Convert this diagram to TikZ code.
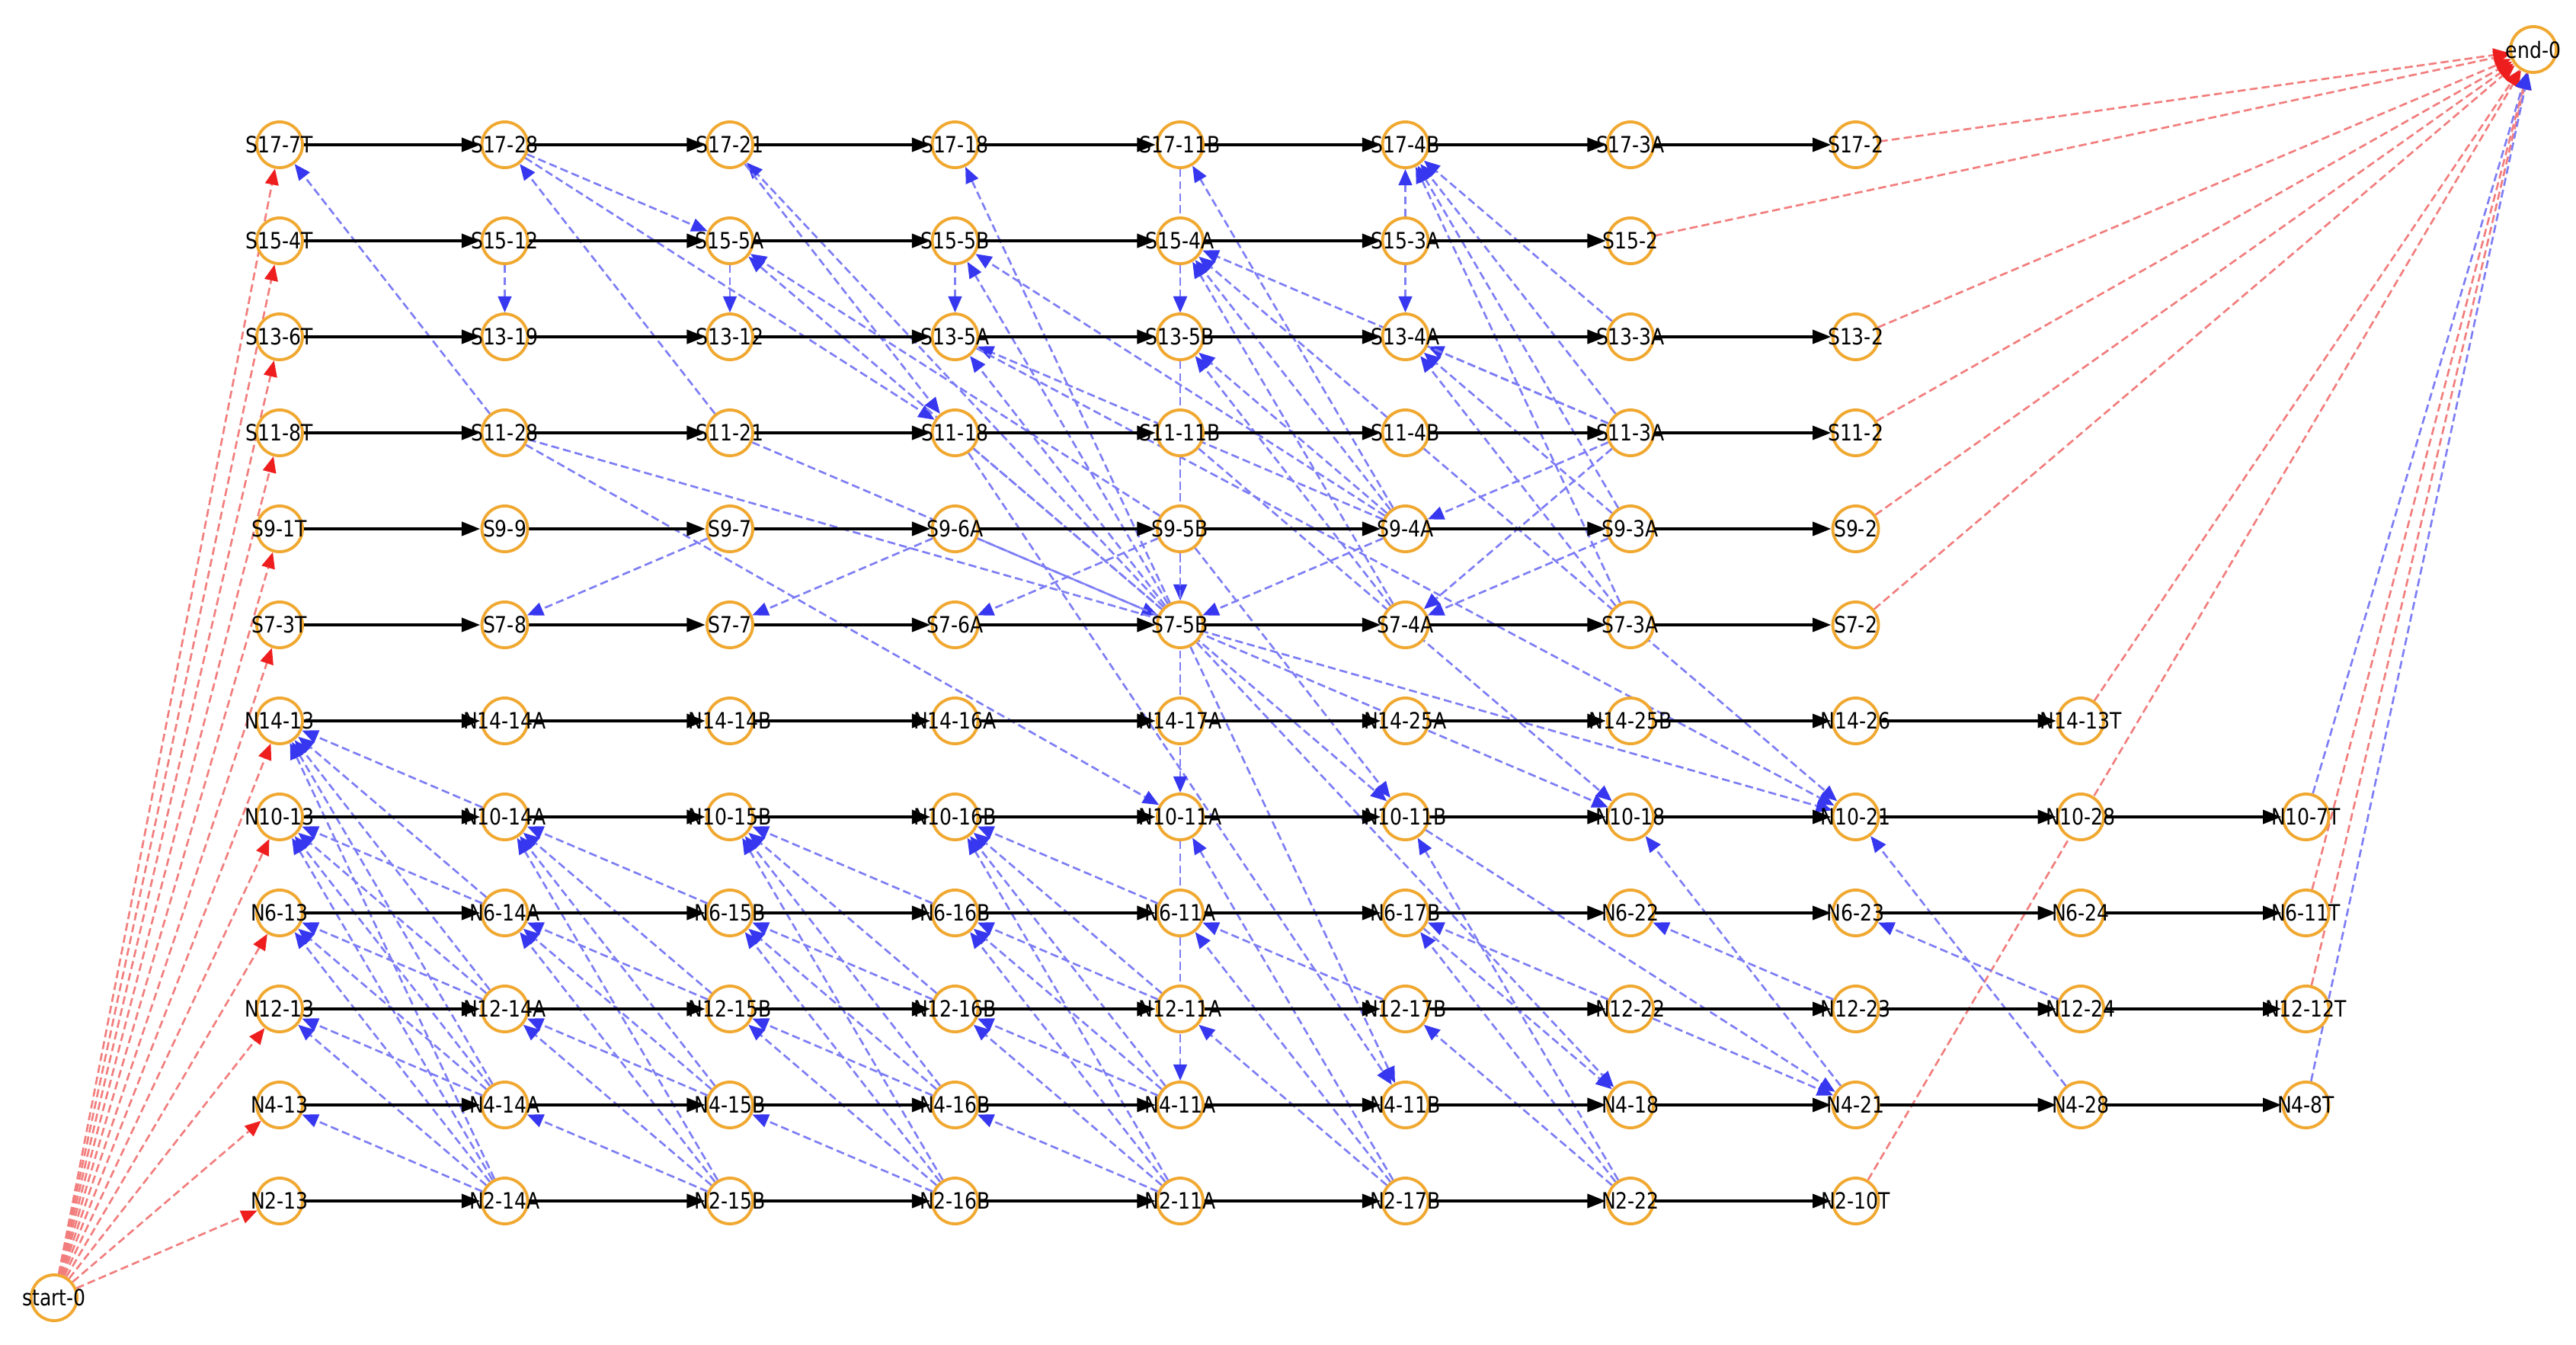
\documentclass[tikz,border=0pt]{standalone}
\usepackage{fontspec}
\setmainfont{DejaVu Sans}[FakeStretch=0.85]
\usetikzlibrary{arrows.meta,backgrounds}

\definecolor{stopring}{RGB}{240,168,48}
\definecolor{linkblue}{RGB}{125,125,245}
\definecolor{tipblue}{RGB}{55,55,240}
\definecolor{linkred}{RGB}{242,125,125}
\definecolor{tipred}{RGB}{238,30,30}

% one line per route, stops from left to right
\def\routes{{S17-7T,S17-28,S17-21,S17-18,S17-11B,S17-4B,S17-3A,S17-2},
 {S15-4T,S15-12,S15-5A,S15-5B,S15-4A,S15-3A,S15-2},
 {S13-6T,S13-19,S13-12,S13-5A,S13-5B,S13-4A,S13-3A,S13-2},
 {S11-8T,S11-28,S11-21,S11-18,S11-11B,S11-4B,S11-3A,S11-2},
 {S9-1T,S9-9,S9-7,S9-6A,S9-5B,S9-4A,S9-3A,S9-2},
 {S7-3T,S7-8,S7-7,S7-6A,S7-5B,S7-4A,S7-3A,S7-2},
 {N14-13,N14-14A,N14-14B,N14-16A,N14-17A,N14-25A,N14-25B,N14-26,N14-13T},
 {N10-13,N10-14A,N10-15B,N10-16B,N10-11A,N10-11B,N10-18,N10-21,N10-28,N10-7T},
 {N6-13,N6-14A,N6-15B,N6-16B,N6-11A,N6-17B,N6-22,N6-23,N6-24,N6-11T},
 {N12-13,N12-14A,N12-15B,N12-16B,N12-11A,N12-17B,N12-22,N12-23,N12-24,N12-12T},
 {N4-13,N4-14A,N4-15B,N4-16B,N4-11A,N4-11B,N4-18,N4-21,N4-28,N4-8T},
 {N2-13,N2-14A,N2-15B,N2-16B,N2-11A,N2-17B,N2-22,N2-10T}}

\begin{document}
\begin{tikzpicture}[
	stop/.style={circle, draw=stopring, line width=1.1pt, fill=white, minimum size=0.6cm, inner sep=0pt},
	stoplabel/.style={inner sep=0pt, font=\fontsize{8.4}{9}\selectfont},
	run/.style={-{Triangle[length=7pt,width=5pt]}, line width=1.4pt, black},
	transfer/.style={-{Triangle[length=6pt,width=5pt,color=tipblue]}, linkblue, line width=0.75pt, dash pattern=on 3pt off 1.5pt},
	feed/.style={-{Triangle[length=6pt,width=5pt,color=tipred]}, linkred, line width=0.75pt, dash pattern=on 3pt off 1.5pt}
]
	%\draw[help lines] (0,0) grid (34,-18);
	\useasboundingbox (0,0) rectangle (33.81,-17.64);
	% stops
	\foreach \route [count=\r] in \routes {
		\foreach \st [count=\c] in \route
			\node[stop, label={[stoplabel]center:\st}] (\st) at ({3.67+2.955*(\c-1)}, {-1.90-1.26*(\r-1)}) {};
	}
	\node[stop, label={[stoplabel]center:start-0}] (start-0) at (0.71,-17.03) {};
	\node[stop, label={[stoplabel]center:end-0}] (end-0) at (33.25,-0.65) {};

	\begin{pgfonlayer}{background}
	% start and end
	\foreach \st in {S17-7T,S15-4T,S13-6T,S11-8T,S9-1T,S7-3T,N14-13,N10-13,N6-13,N12-13,N4-13,N2-13}
		\draw[feed] (start-0) -- (\st);
	\foreach \st in {S17-2,S15-2,S13-2,S11-2,S9-2,S7-2,N14-13T,N6-11T,N12-12T,N2-10T}
		\draw[feed] (\st) -- (end-0);
	\foreach \st in {N10-7T,N4-8T}
		\draw[transfer] (\st) -- (end-0);

	% transfers on the S side
	\foreach \a/\b in {S11-28/S17-7T,S11-21/S17-28,S17-28/S15-5A,S17-28/S11-18,S15-12/S13-19,
		S15-5A/S13-12,S15-5B/S13-5A,S15-4A/S13-5B,S17-11B/S13-5B,S15-3A/S17-4B,S15-3A/S13-4A,
		S13-3A/S17-4B,S11-3A/S17-4B,S9-3A/S17-4B,S7-3A/S17-4B,S11-3A/S13-4A,S11-3A/S15-4A,
		S9-3A/S13-4A,S7-3A/S13-4A,S11-4B/S15-4A,S9-4A/S15-4A,S7-4A/S15-4A,S9-4A/S13-5B,
		S7-4A/S13-5B,S9-4A/S17-11B,S11-3A/S9-4A,S11-3A/S7-4A,S9-3A/S7-4A,S9-4A/S7-5B,
		S9-5B/S7-6A,S9-6A/S7-7,S9-7/S7-8,S7-5B/S17-18,S7-5B/S17-21,S7-5B/S15-5A,S9-5B/S15-5A,
		S7-5B/S15-5B,S9-4A/S15-5B,S7-5B/S13-5A,S9-4A/S13-5A,S17-21/S11-18,S9-6A/S7-5B,
		S11-11B/S7-5B}
		\draw[transfer] (\a) -- (\b);

	% transfers from S to N
	\foreach \a/\b in {S11-28/N10-21,S11-28/N10-11A,S11-21/N10-18,S11-18/N10-11B,S11-18/N4-11B,
		S13-5A/N10-21,S11-4B/N10-21,S11-11B/N10-18,S9-5B/N10-11B,S13-5B/N10-11A,S7-5B/N4-18,
		S7-5B/N4-11B}
		\draw[transfer] (\a) -- (\b);

	% transfers on the N side
	\foreach \hi [count=\k] in {N14,N10,N6,N12,N4,N2}
		\foreach \lo [count=\m] in {N14,N10,N6,N12,N4,N2}
			{\ifnum\m>\k \draw[transfer] (\lo-14A) -- (\hi-13); \fi}
	\foreach \p/\q in {14A/15B,15B/16B,16B/11A}
		\foreach \hi [count=\k] in {N10,N6,N12,N4,N2}
			\foreach \lo [count=\m] in {N10,N6,N12,N4,N2}
				{\ifnum\m>\k \draw[transfer] (\lo-\q) -- (\hi-\p); \fi}
	\foreach \a/\b in {N10-11A/N4-11A,N2-17B/N10-11A,N2-17B/N6-11A,N2-17B/N12-11A,N12-17B/N6-11A,
		N2-22/N10-11B,N2-22/N6-17B,N2-22/N12-17B,N12-22/N6-17B,N4-21/N10-18,N4-28/N10-21,
		N12-23/N6-22,N12-24/N6-23,N12-22/N4-21,N10-11B/N4-21,N6-17B/N4-18}
		\draw[transfer] (\a) -- (\b);

	% runs along each route
	\foreach \route in \routes {
		\foreach \st [count=\c, remember=\st as \prev (initially none)] in \route
			{\ifnum\c>1 \draw[run] (\prev) -- (\st); \fi}
	}
	\end{pgfonlayer}
\end{tikzpicture}
\end{document}
